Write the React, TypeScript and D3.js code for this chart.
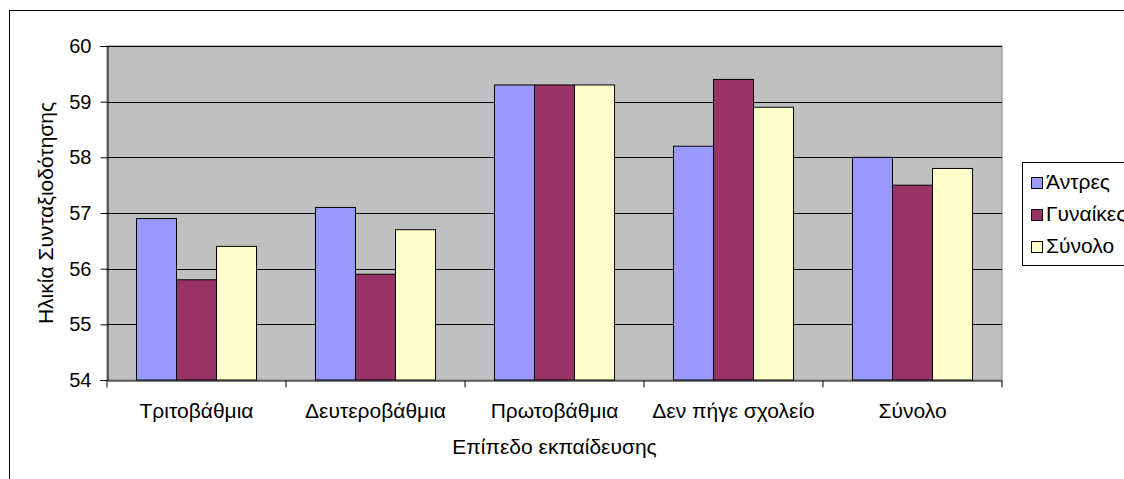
import * as d3 from "d3";
import React, { useRef, useEffect } from "react";

const categories = ["Τριτοβάθμια", "Δευτεροβάθμια", "Πρωτοβάθμια", "Δεν πήγε σχολείο", "Σύνολο"];
const seriesNames = ["Άντρες", "Γυναίκες", "Σύνολο"];
const men = [56.9, 57.1, 59.3, 58.2, 58.0];
const women = [55.8, 55.9, 59.3, 59.4, 57.5];
const total = [56.4, 56.7, 59.3, 58.9, 57.8];
const yTicks = [54, 55, 56, 57, 58, 59, 60];
const colors = ["#9999FF", "#993366", "#FFFFCC"];

const App = () => {
  const svgRef = useRef(null);
  const w = 1124;
  const h = 479;

  useEffect(() => {
    const svg = d3.select(svgRef.current);
    svg.selectAll("*").remove();
    const font = "'Liberation Sans', Arial, sans-serif";
    const fs = 21;

    const left = 107, right = 1002, top = 46, bottom = 380;
    const series = [men, women, total];

    // chart frame
    svg.append("rect")
      .attr("x", 9.5).attr("y", 10.5)
      .attr("width", 1130).attr("height", 480)
      .attr("fill", "white").attr("stroke", "black");

    const x = d3.scaleBand().domain(categories).range([left, right]);
    const x1 = d3.scaleBand().domain(seriesNames).range([0, x.bandwidth()]).paddingOuter(0.737).paddingInner(0);
    const y = d3.scaleLinear().domain([54, 60]).range([bottom, top]);

    svg.append("rect")
      .attr("x", left).attr("y", top)
      .attr("width", right - left).attr("height", bottom - top)
      .attr("fill", "#C0C0C0").attr("stroke", "#808080");

    // gridlines
    svg.append("g").selectAll("line")
      .data(yTicks.slice(1))
      .enter().append("line")
      .attr("x1", left).attr("x2", right)
      .attr("y1", (d) => Math.round(y(d)) + 0.5).attr("y2", (d) => Math.round(y(d)) + 0.5)
      .attr("stroke", "black");

    // bars
    categories.forEach((c, i) => {
      series.forEach((s, j) => {
        svg.append("rect")
          .attr("x", x(c) + x1(seriesNames[j]))
          .attr("y", y(s[i]))
          .attr("width", x1.bandwidth())
          .attr("height", bottom - y(s[i]))
          .attr("fill", colors[j])
          .attr("stroke", "black")
          .attr("stroke-width", 1);
      });
    });

    // y axis
    const yAxis = d3.axisLeft(y).tickValues(yTicks).tickSize(7).tickPadding(9).tickFormat(d3.format("d"));
    const gy = svg.append("g").attr("transform", `translate(${left + 0.5},0)`).call(yAxis);
    gy.selectAll("text").attr("font-size", 20).attr("font-family", font).attr("fill", "black");
    gy.selectAll("line,path").attr("stroke", "black");

    // x axis
    const xAxis = d3.axisBottom(x).tickSize(0);
    const gx = svg.append("g").attr("transform", `translate(0,${bottom + 0.5})`).call(xAxis);
    gx.selectAll("text").attr("font-size", fs).attr("font-family", font).attr("fill", "black")
      .attr("dy", 0).attr("y", 37);
    gx.selectAll("path").attr("stroke", "black");
    gx.selectAll(".cat-tick").data(d3.range(categories.length + 1)).enter()
      .append("line")
      .attr("x1", (d) => left + d * x.step()).attr("x2", (d) => left + d * x.step())
      .attr("y1", 0).attr("y2", 7).attr("stroke", "black");

    // axis titles
    svg.append("text")
      .attr("x", (left + right) / 2).attr("y", 454)
      .attr("text-anchor", "middle")
      .attr("font-size", fs).attr("font-family", font)
      .text("Επίπεδο εκπαίδευσης");
    svg.append("text")
      .attr("transform", `translate(53,${(top + bottom) / 2}) rotate(-90)`)
      .attr("text-anchor", "middle")
      .attr("font-size", fs).attr("font-family", font)
      .text("Ηλικία Συνταξιοδότησης");

    // legend
    const lg = svg.append("g");
    lg.append("rect")
      .attr("x", 1022.5).attr("y", 162.5)
      .attr("width", 120).attr("height", 103)
      .attr("fill", "white").attr("stroke", "black");
    seriesNames.forEach((n, i) => {
      const by = 188.5 + i * 32.2;
      lg.append("rect")
        .attr("x", 1031.5).attr("y", Math.round(by) - 11.5)
        .attr("width", 11).attr("height", 11)
        .attr("fill", colors[i]).attr("stroke", "black");
      lg.append("text")
        .attr("x", 1046).attr("y", by)
        .attr("font-size", fs).attr("font-family", font)
        .text(n);
    });
  }, []);

  return (
    <svg ref={svgRef} width={w} height={h} viewBox={`0 0 ${w} ${h}`}
      style={{ position: "absolute", left: 0, top: 0, background: "white" }} />
  );
};

export default App;
